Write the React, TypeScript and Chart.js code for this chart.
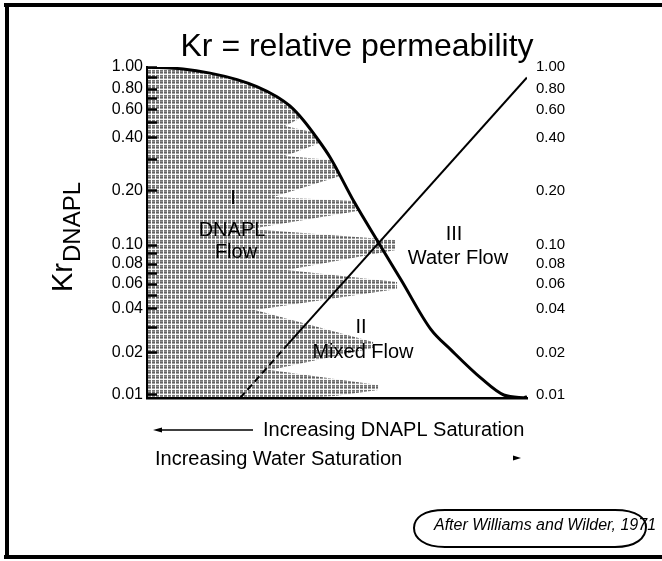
import React, { useEffect, useRef } from 'react';
import { Chart, registerables, LogarithmicScale } from 'chart.js';

Chart.register(...registerables);

// ---- Kr axis as drawn in the reference (non-uniform log spacing) ----
const KR_AXIS_VALUES = [0.0095, 0.01, 0.02, 0.04, 0.06, 0.08, 0.1, 0.2, 0.4, 0.6, 0.8, 1.0];
const KR_AXIS_FRACTIONS = [0, 0.0091, 0.136, 0.2689, 0.3444, 0.4048, 0.4622, 0.6254, 0.7855, 0.8701, 0.9335, 1];

const KR_TICKS = [0.01, 0.02, 0.03, 0.04, 0.05, 0.06, 0.07, 0.08, 0.09, 0.1, 0.2, 0.3, 0.4, 0.5, 0.6, 0.7, 0.8, 0.9, 1.0];
const KR_LABELED_TICKS = [0.01, 0.02, 0.04, 0.06, 0.08, 0.1, 0.2, 0.4, 0.6, 0.8, 1.0];

// ---- DNAPL relative permeability curve (x = water saturation %, y = Kr) ----
const DNAPL_SW = [0, 9.5, 16.6, 23.7, 28.9, 34.2, 37.6, 41.1, 44.7, 48.2, 54.5, 61.3, 66.8, 74.7, 80.0, 87.9, 93.9, 99.7];
const DNAPL_KR = [1.0, 0.98, 0.94, 0.88, 0.82, 0.72, 0.634, 0.519, 0.40, 0.31, 0.174, 0.10, 0.064, 0.029, 0.021, 0.0132, 0.0100, 0.0095];

// ---- Water relative permeability line ----
const WATER_SW = [24.5, 37.1, 100];
const WATER_KR = [0.0095, 0.023, 0.90];

// ---- Hatched zone outline (zone I, jagged right edge) ----
const ZONE_SW = [0, 9.5, 16.6, 23.7, 28.9, 34.2, 37.6, 40.5, 36.3, 43.4, 44.7, 45.5, 36.3, 48.5, 50.8, 33.2, 54.2, 55.8, 27.1, 65.5, 65.5, 36.8, 65.8, 65.8, 28.4, 59.5, 59.5, 32.4, 60.8, 60.8, 49.5, 40.3, 0];
const ZONE_KR = [1.0, 0.98, 0.94, 0.88, 0.82, 0.72, 0.634, 0.534, 0.476, 0.436, 0.40, 0.375, 0.316, 0.300, 0.243, 0.185, 0.176, 0.155, 0.123, 0.1066, 0.0943, 0.0734, 0.0617, 0.0553, 0.0394, 0.0238, 0.0216, 0.0151, 0.0118, 0.01086, 0.00983, 0.0095, 0.0095];

const TITLE = 'Kr = relative permeability';
const FONT_FAMILY = '"Liberation Sans", Arial, Helvetica, sans-serif';

const LOG_VALUES = KR_AXIS_VALUES.map((v) => Math.log10(v));

function krToFraction(v: number): number {
  const lv = Math.log10(v);
  let i = 0;
  while (i < LOG_VALUES.length - 2 && lv > LOG_VALUES[i + 1]) i++;
  const t = (lv - LOG_VALUES[i]) / (LOG_VALUES[i + 1] - LOG_VALUES[i]);
  return KR_AXIS_FRACTIONS[i] + t * (KR_AXIS_FRACTIONS[i + 1] - KR_AXIS_FRACTIONS[i]);
}

function fractionToKr(f: number): number {
  const F = KR_AXIS_FRACTIONS;
  let i = 0;
  while (i < F.length - 2 && f > F[i + 1]) i++;
  const t = (f - F[i]) / (F[i + 1] - F[i]);
  return Math.pow(10, LOG_VALUES[i] + t * (LOG_VALUES[i + 1] - LOG_VALUES[i]));
}

class WarpedLogScale extends LogarithmicScale {
  static id = 'warpedLog';
  static defaults = {};
  getPixelForValue(value: any) {
    if (value === undefined || value === 0) value = (this as any).min;
    if (value === null || isNaN(value)) return NaN;
    return (this as any).getPixelForDecimal(krToFraction(value));
  }
  getValueForPixel(pixel: number) {
    return fractionToKr((this as any).getDecimalForPixel(pixel));
  }
}
Chart.register(WarpedLogScale as any);

const font = (size: number, style = '') => `${style} ${size}px ${FONT_FAMILY}`.trim();

const decorPlugin = {
  id: 'slideDecor',
  beforeDraw(chart: any) {
    const ctx = chart.ctx;
    ctx.save();
    ctx.fillStyle = '#000';
    ctx.fillRect(4, 3, 658, 4);
    ctx.fillRect(5, 3, 4, 556);
    ctx.fillRect(4, 555, 658, 4);
    ctx.restore();
  },
  afterDraw(chart: any) {
    const ctx = chart.ctx;
    ctx.save();
    ctx.fillStyle = '#000';
    ctx.strokeStyle = '#000';

    // title
    ctx.font = font(32);
    ctx.textAlign = 'center';
    ctx.textBaseline = 'alphabetic';
    ctx.fillText(TITLE, 357, 56);

    // y-axis title: Kr with subscript DNAPL, rotated
    ctx.save();
    ctx.translate(72, 292);
    ctx.rotate(-Math.PI / 2);
    ctx.textAlign = 'left';
    ctx.font = font(29);
    ctx.fillText('Kr', 0, 0);
    const w = ctx.measureText('Kr').width;
    ctx.font = font(24);
    ctx.fillText('DNAPL', w + 1, 8);
    ctx.restore();

    // zone labels
    ctx.font = font(20);
    ctx.textAlign = 'center';
    ctx.textBaseline = 'middle';
    ctx.fillText('I', 233, 198);
    ctx.fillText('DNAPL', 232, 230);
    ctx.fillText('Flow', 236, 252);
    ctx.fillText('III', 454, 234);
    ctx.fillText('Water Flow', 458, 258);
    ctx.fillText('II', 361, 327);
    ctx.fillText('Mixed Flow', 363, 352);

    // bottom captions
    ctx.textAlign = 'left';
    ctx.fillText('Increasing DNAPL Saturation', 263, 430);
    ctx.fillText('Increasing Water Saturation', 155, 459);

    // left arrow
    ctx.lineWidth = 1.5;
    ctx.beginPath();
    ctx.moveTo(160, 430);
    ctx.lineTo(253, 430);
    ctx.stroke();
    ctx.beginPath();
    ctx.moveTo(153, 430);
    ctx.lineTo(162, 427.5);
    ctx.lineTo(162, 432.5);
    ctx.closePath();
    ctx.fill();

    // small right arrowhead
    ctx.beginPath();
    ctx.moveTo(521, 458);
    ctx.lineTo(513, 455.5);
    ctx.lineTo(513, 460.5);
    ctx.closePath();
    ctx.fill();

    // citation bubble
    ctx.lineWidth = 2;
    ctx.beginPath();
    ctx.moveTo(445, 510);
    ctx.lineTo(615, 510);
    ctx.bezierCurveTo(638, 510, 646, 519, 646, 527);
    ctx.bezierCurveTo(646, 538, 636, 547, 615, 547);
    ctx.lineTo(445, 547);
    ctx.bezierCurveTo(424, 547, 414, 538, 414, 528);
    ctx.bezierCurveTo(414, 518, 423, 510, 445, 510);
    ctx.closePath();
    ctx.stroke();
    ctx.font = font(16, 'italic');
    ctx.textBaseline = 'middle';
    ctx.fillText('After Williams and Wilder, 1971', 434, 526);

    ctx.restore();
  },
};

function makeHatch(): CanvasPattern | string {
  const pc = document.createElement('canvas');
  pc.width = 4;
  pc.height = 5;
  const g = pc.getContext('2d');
  if (!g) return '#999';
  const rows = ['#737373', '#8c8c8c', '#636363', '#a0a0a0', '#f2f2f2'];
  rows.forEach((c, i) => {
    g.fillStyle = c;
    g.fillRect(0, i, 4, 1);
  });
  g.fillStyle = '#ffffff';
  g.fillRect(3, 0, 1, 5);
  return g.createPattern(pc, 'repeat') || '#999';
}

export default function App() {
  const ref = useRef<HTMLCanvasElement | null>(null);

  useEffect(() => {
    document.body.style.margin = '0';
    const canvas = ref.current;
    if (!canvas) return;
    const hatch = makeHatch();
    const lastIdx = DNAPL_SW.length - 1;

    const chart = new Chart(canvas, {
      type: 'line',
      data: {
        datasets: [
          {
            label: 'Kr DNAPL',
            data: DNAPL_SW.map((x, i) => ({ x, y: DNAPL_KR[i] })),
            borderColor: '#000',
            borderWidth: 3,
            cubicInterpolationMode: 'monotone',
            fill: false,
            borderCapStyle: 'round',
            borderJoinStyle: 'round',
            pointRadius: (c: any) => (c.dataIndex === lastIdx ? 2.5 : 0),
            pointBackgroundColor: '#000',
            pointBorderWidth: 0,
            xAxisID: 'x',
            yAxisID: 'y',
          },
          {
            label: 'Kr water',
            data: WATER_SW.map((x, i) => ({ x, y: WATER_KR[i] })),
            borderColor: '#000',
            borderWidth: 2,
            tension: 0,
            fill: false,
            pointRadius: 0,
            segment: {
              borderDash: (c: any) => (c.p0DataIndex === 0 ? [7, 4] : undefined),
            },
            xAxisID: 'x',
            yAxisID: 'y',
          },
          {
            label: 'I DNAPL Flow',
            data: ZONE_SW.map((x, i) => ({ x, y: ZONE_KR[i] })),
            borderWidth: 0,
            borderColor: 'rgba(0,0,0,0)',
            backgroundColor: hatch as any,
            tension: 0,
            fill: 'shape',
            pointRadius: 0,
            xAxisID: 'x',
            yAxisID: 'y',
          },
        ],
      } as any,
      options: {
        animation: false,
        responsive: false,
        events: [],
        layout: { padding: { top: 67, left: 0, right: 0, bottom: 0 } },
        plugins: {
          legend: { display: false },
          tooltip: { enabled: false },
          title: { display: false },
        },
        scales: {
          x: {
            type: 'linear',
            position: 'bottom',
            min: 0,
            max: 100,
            ticks: { display: false },
            grid: { display: false, drawTicks: false },
            border: { display: true, color: '#000', width: 2.5, z: 2 },
            afterFit: (s: any) => {
              s.height = 163;
            },
          },
          y: {
            type: 'warpedLog',
            position: 'left',
            min: 0.0095,
            max: 1,
            afterBuildTicks: (s: any) => {
              s.ticks = KR_TICKS.map((v) => ({ value: v }));
            },
            ticks: {
              autoSkip: false,
              padding: 14,
              color: '#000',
              z: 2,
              font: { family: FONT_FAMILY, size: 16 },
              callback: (v: any) => (KR_LABELED_TICKS.includes(v) ? Number(v).toFixed(2) : ''),
            },
            grid: {
              z: 2,
              drawOnChartArea: false,
              drawTicks: true,
              tickLength: -10,
              tickWidth: 2.5,
              tickColor: '#000',
            },
            border: { display: true, color: '#000', width: 2, z: 2 },
            afterFit: (s: any) => {
              s.width = 147;
            },
          },
          y2: {
            type: 'warpedLog',
            position: 'right',
            min: 0.0095,
            max: 1,
            afterBuildTicks: (s: any) => {
              s.ticks = KR_LABELED_TICKS.map((v) => ({ value: v }));
            },
            ticks: {
              autoSkip: false,
              padding: 9,
              color: '#000',
              font: { family: FONT_FAMILY, size: 15 },
              callback: (v: any) => Number(v).toFixed(2),
            },
            grid: { display: false, drawTicks: false },
            border: { display: false },
            afterFit: (s: any) => {
              s.width = 135;
            },
          },
        },
      } as any,
      plugins: [decorPlugin],
    });

    return () => chart.destroy();
  }, []);

  return (
    <div style={{ width: 662, height: 561, background: '#fff' }}>
      <canvas ref={ref} width={662} height={561} style={{ display: 'block' }} />
    </div>
  );
}
